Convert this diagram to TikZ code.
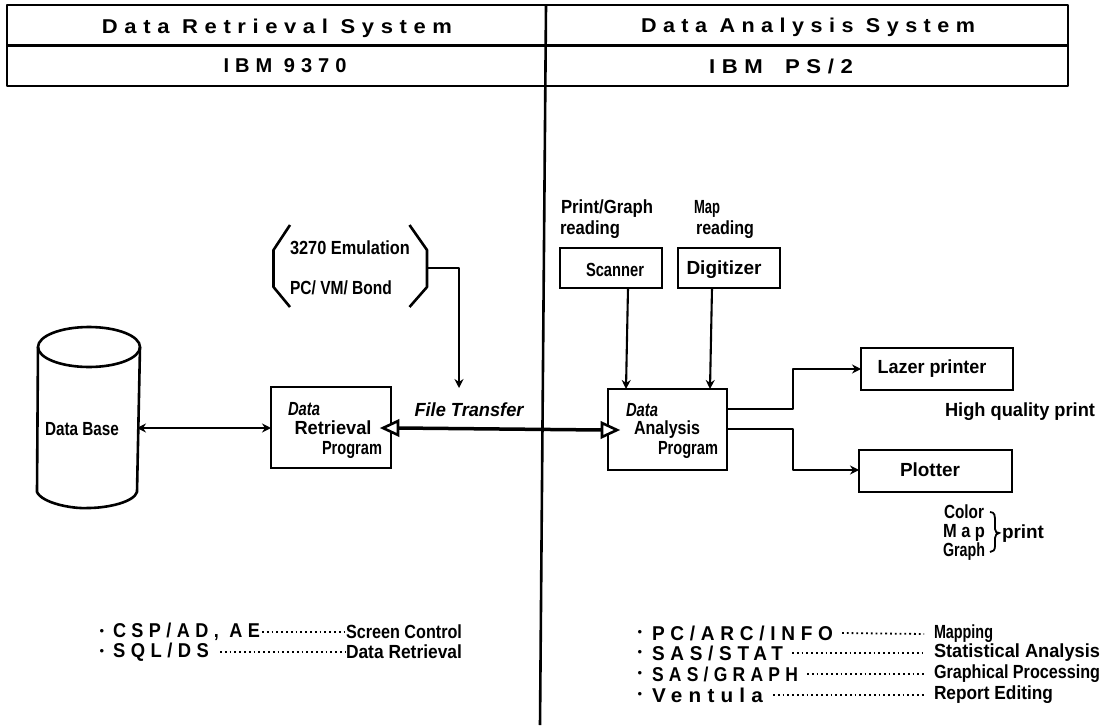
\documentclass[tikz,border=0pt]{standalone}
\usepackage{fontspec}
\usepackage{graphicx}
\usetikzlibrary{arrows.meta}
\setmainfont{Liberation Sans}
\newfontfamily\spaced[LetterSpace=30]{Liberation Sans}
\newcommand{\tw}[2]{\resizebox{#1pt}{\height}{#2}}
\tikzset{
  every node/.style={inner sep=0pt,outer sep=0pt,font=\fontsize{19}{21}\selectfont\bfseries},
  ln/.style={line width=2.6pt,line join=round},
  cn/.style={line width=2.1pt,line join=round},
  tip/.style={-{Stealth[length=9pt,width=9pt]}},
  dotty/.style={line width=1.8pt,dash pattern=on 1.8pt off 3pt},
  lst/.style={font=\fontsize{20}{21}\selectfont\spaced\bfseries,anchor=west},
  hd/.style={font=\fontsize{20}{21}\selectfont\spaced\bfseries},
  ital/.style={font=\fontsize{19}{21}\selectfont\bfseries\itshape},
  side/.style={anchor=west},
  anchorbox/.style={draw,line width=2.6pt,anchor=north west},
  opentip/.style={draw,line width=2.6pt,fill=white,line join=miter},
  bul/.style={font=\fontsize{13}{13}\selectfont}
}
\begin{document}
\begin{tikzpicture}[x=1pt,y=-1pt]
\useasboundingbox (0,0) rectangle (1102,725);
\fill[white] (0,0) rectangle (1102,725);
% header table
\coordinate (tl) at (7,5); \coordinate (tr) at (1068,5);
\coordinate (ml) at (7,45.5); \coordinate (mr) at (1068,45.5);
\coordinate (bl) at (7,86); \coordinate (br) at (1068,86);
\coordinate (vt) at (546,5); \coordinate (vb) at (540,725);
\draw[ln] (tl) -- (tr) -- (br) -- (bl) -- cycle;
\draw[ln] (ml) -- (mr);
\draw[ln] (vt) -- (vb);
\node[hd] (h1) at (277,28) {\tw{350}{Data Retrieval System}};
\node[hd] (h2) at (285,66) {\tw{123}{IBM 9370}};
\node[hd] (h3) at (808,27) {\tw{334}{Data Analysis System}};
\node[hd] (h4) at (781,66) {\tw{144}{IBM\quad PS/2}};
% database
\coordinate (c1) at (38,347); \coordinate (c2) at (140,347);
\coordinate (c3) at (37,492); \coordinate (c4) at (137,492);
\draw[ln] (89,347) ellipse [x radius=51,y radius=20];
\draw[ln] (c1) -- (c3) .. controls (42,503) and (72,509) .. (88,508) .. controls (108,508) and (134,502) .. (c4) -- (c2);
\node (db) at (82,429) {\tw{74}{Data Base}};
\coordinate (dbr) at (137,428);
% brackets
\coordinate (brr) at (427,268);
\draw[ln] (290,225) -- (273.5,250) -- (273.5,287) -- (290,307);
\draw[ln] (409.5,225) -- (427,250) -- (427,287) -- (409.5,307);
\node (em) at (350,248) {\tw{120}{3270 Emulation}};
\node (pc) at (341,288) {\tw{102}{PC/ VM/ Bond}};
% retrieval box
\node[anchorbox,minimum width=120pt,minimum height=81pt] (rb) at (271,387) {};
\node[ital] (rb1) at (304,409) {\tw{32}{Data}};
\node (rb2) at (333,428) {\tw{77}{Retrieval}};
\node (rb3) at (352,450) {\tw{60}{Program}};
% analysis box
\node[anchorbox,minimum width=119pt,minimum height=81pt] (ab) at (608,389) {};
\node[ital] (ab1) at (642,410) {\tw{32}{Data}};
\node (ab2) at (667,430) {\tw{66}{Analysis}};
\node (ab3) at (688,450) {\tw{60}{Program}};
% connectors left
\coordinate (rbw) at (271,428);
\draw[cn,{Stealth[length=9pt,width=9pt]}-{Stealth[length=9pt,width=9pt]}] (dbr) -- (rbw);
\coordinate (tfdown) at (459,388);
\draw[cn,tip] (brr) -- (459,268) -- (tfdown);
\node[ital] (ft) at (469,410) {\tw{109}{File Transfer}};
% transfer arrow
\coordinate (ta) at (398,428); \coordinate (tb) at (602,430);
\draw[line width=3.5pt] (ta) -- (tb);
\draw[opentip] (383,428) -- (398,421) -- (398,435) -- cycle;
\draw[opentip] (617,430) -- (602,423) -- (602,437) -- cycle;
% scanner and digitizer
\node[anchorbox,minimum width=102pt,minimum height=40pt] (sc) at (560,248) {};
\node[anchorbox,minimum width=102pt,minimum height=40pt] (dg) at (678,248) {};
\node (sct) at (615,270) {\tw{58}{Scanner}};
\node (dgt) at (724,270) {\tw{75}{Digitizer}};
\node (pg) at (607,209) {\tw{92}{Print/Graph}};
\node (rd1) at (590,230) {\tw{60}{reading}};
\node (mp) at (707,209) {\tw{26}{Map}};
\node (rd2) at (725,230) {\tw{58}{reading}};
\coordinate (s1) at (628,288); \coordinate (s2) at (626,389);
\coordinate (d1) at (712,288); \coordinate (d2) at (710,389);
\draw[cn,tip] (s1) -- (s2);
\draw[cn,tip] (d1) -- (d2);
% output devices
\node[anchorbox,minimum width=152pt,minimum height=42pt] (lz) at (861,348) {};
\node[anchorbox,minimum width=153pt,minimum height=42pt] (pl) at (859,450) {};
\node (lzt) at (932,369) {\tw{109}{Lazer printer}};
\node (plt) at (930,470) {\tw{60}{Plotter}};
\coordinate (a1) at (727,409); \coordinate (a2) at (727,429);
\draw[cn,tip] (a1) -- (793,409) -- (793,369) -- (861,369);
\draw[cn,tip] (a2) -- (793,429) -- (793,470) -- (859,470);
\node (hq) at (1020,412) {\tw{150}{High quality print}};
\node (co) at (964,512) {\tw{40}{Color}};
\node (ma) at (964,533) {\tw{42}{M a p}};
\node (gr) at (964,552) {\tw{42}{Graph}};
\draw[line width=1.8pt] (990,512) .. controls (995,512) and (995,516) .. (995,522) -- (995,529) .. controls (995,532) and (997,533) .. (999,533) .. controls (997,533) and (995,535) .. (995,538) -- (995,546) .. controls (995,550) and (993,552) .. (990,552);
\node (pr) at (1023,534) {\tw{42}{print}};
% lists, left
\node[bul] (bl1) at (102,632) {\textbullet};
\node[bul] (bl2) at (102,652) {\textbullet};
\node[lst] (csp) at (113,632) {\tw{147}{CSP/AD, AE}};
\node[lst] (sql) at (113,652) {\tw{96}{SQL/DS}};
\node[side] (scr) at (346,632) {\tw{116}{Screen Control}};
\node[side] (drt) at (346,652) {\tw{116}{Data Retrieval}};
\draw[dotty] ([xshift=2pt]csp.east) -- (scr.west);
\draw[dotty] ([xshift=11pt]sql.east) -- (drt.west);
% lists, right
\foreach \n/\yy in {b3/633,b4/653,b5/674,b6/695}{\node[bul] (\n) at (640,\yy) {\textbullet};}
\node[lst] (l1) at (652,633) {\tw{181}{PC/ARC/INFO}};
\node[lst] (l2) at (652,653) {\tw{131}{SAS/STAT}};
\node[lst] (l3) at (652,674) {\tw{146}{SAS/GRAPH}};
\node[lst] (l4) at (652,695) {\tw{111}{Ventula}};
\node[side] (r1) at (934,634) {\tw{59}{Mapping}};
\node[side] (r2) at (934,653) {\tw{166}{Statistical Analysis}};
\node[side] (r3) at (934,674) {\tw{166}{Graphical Processing}};
\node[side] (r4) at (934,695) {\tw{119}{Report Editing}};
\draw[dotty] ([xshift=9pt]l1.east) -- ([xshift=-10pt]r1.west);
\draw[dotty] ([xshift=9pt]l2.east) -- ([xshift=-10pt]r2.west);
\draw[dotty] ([xshift=9pt]l3.east) -- ([xshift=-10pt]r3.west);
\draw[dotty] ([xshift=10pt]l4.east) -- ([xshift=-10pt]r4.west);
\end{tikzpicture}
\end{document}
